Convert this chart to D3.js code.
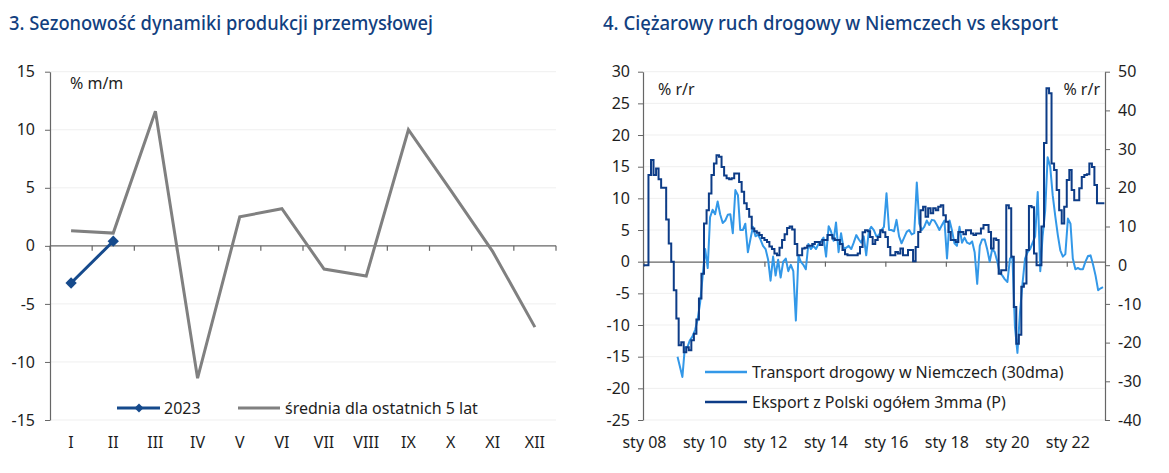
<!DOCTYPE html>
<html><head><meta charset="utf-8">
<script src="https://cdn.jsdelivr.net/npm/d3@7"></script>
<style>
body{margin:0;background:#fff}
svg{display:block}
text{font-family:"Noto Sans",sans-serif}
</style>
</head><body>
<svg id="c" width="1169" height="473"></svg>
<script>
// ---------- DATA: chart 3 ----------
const title1 = "3. Sezonowość dynamiki produkcji przemysłowej";
const months = ["I","II","III","IV","V","VI","VII","VIII","IX","X","XI","XII"];
const avg5y = [1.3, 1.1, 11.6, -11.4, 2.5, 3.2, -2.0, -2.6, 10.0, 4.8, -0.5, -7.0];
const y2023 = [-3.2, 0.4];
const yTicks3 = [-15, -10, -5, 0, 5, 10, 15];
const unit3 = "% m/m";
const legend3 = ["2023", "średnia dla ostatnich 5 lat"];

// ---------- DATA: chart 4 ----------
const title2 = "4. Ciężarowy ruch drogowy w Niemczech vs eksport";
// Eksport z Polski ogółem 3mma (right axis), monthly from Jan 2008
const exportStart = [2008, 0];
const exportVals = [
  0, 0, 23.3, 27.2, 23.3, 25, 22.2, 20, 20, 11.8, 5.6, 0.9,
  -6.5, -13.8, -20.7, -19.9, -22.5, -21.2, -22, -19.4, -17.7, -14, -8.6, -2.2,
  10.8, 14.2, 18.5, 23.3, 26.3, 28.4, 28.0, 25.4, 23.2, 22.5, 22.2, 22.5,
  23.7, 23.7, 21.5, 19, 16, 14.5, 12.5, 9.5, 8.8, 8.4, 7.8, 7.0,
  6.5, 6.0, 4.8, 4.2, 3.0, 2.6, 4.5, 6.5, 8.0, 9.6, 10.0, 9.2,
  5.5, 2.6, 2.6, 4.3, 4.5, 5.0, 5.0, 5.5, 6.0, 6.0, 5.2, 6.5,
  6.5, 7.8, 7.8, 6.9, 6.5, 6.5, 5.5, 3.9, 2.8, 2.6, 2.6, 2.6,
  2.6, 3.0, 4.7, 8.5, 9.0, 8.8, 7.3, 5.5, 6.5, 7.3, 9.0, 8.5,
  7.3, 4.7, 2.6, 2.6, 3.4, 3.0, 4.3, 2.6, 2.6, 3.9, 3.9, 1.0,
  4.7, 8.6, 14.2, 15.1, 12.5, 14.7, 13.4, 14.7, 14.2, 15.1, 15.5, 12.9,
  11.2, 8.6, 6.5, 6.5, 6.0, 8.6, 8.6, 8.0, 9.0, 9.0, 8.2, 7.8,
  8.2, 8.2, 9.5, 10.4, 10.4, 8.6, 4.3, 6.9, 6.5, -2.2, -1.3, -1.3,
  15.5, 14.7, 2.2, -10.8, -20.3, -18, -5.6, -4.7, 3.9, 15.3, 15.0, 3,
  0, 0, 10, 31.6, 45.7, 44.4, 26.3, 24.6, 19.4, 14.2, 10.8, 15.1,
  22, 24.6, 19.4, 16.8, 16.8, 19.9, 22.8, 23.3, 23.5, 26.3, 25.4, 20.7,
  16, 16, 16
];
// Transport drogowy w Niemczech (30dma) (left axis), monthly from Feb 2009
const transportStart = [2009, 1];
const transportVals = [
  -15, -16.5, -18.2, -13.5, -13.5, -12.4, -11.8, -10.8, -9.2, -6.5, -2.4, 2,
  -1, 7, 8.2, 7.5, 9.5, 7.5, 6.1, 6.5, 7.4, 7.5, 4.5, 11.3,
  10.5, 5, 5, 6, 1.5, 3.5, 5.5, 4, 4.3, 3.5, 2.5, 2,
  0.3, -3, 0.8, -2.2, 0.3, -2.5, 0, 0.5, -1.5, -0.5, -1.5, -9.3,
  1, 0, -0.5, -1.2, 2.8, 2, 2.5, 2, 2.8, 3.2, 3.8, 0.8,
  5.6, 4.8, 3.3, 6.2, 1.5, 4.5, 2, 2.2, 2.5, 2, 3, 4.2,
  3.5, 3, 4, 1, 4.8, 5.5, 5, 4, 4.2, 5, 5.5, 10.8,
  5, 5, 4.8, 6.6, 4, 2.9, 3.8, 4.7, 5, 4.3, 4.5, 12.5,
  6, 5, 5.5, 6.5, 5.8, 6.6, 6.5, 5.8, 5, 5.8, 6.5, 0.5,
  6.5, 5, 2.9, 2.5, 5.5, 3, 3.8, 3, 2.8, 3.2, 1.5, -3.5,
  2.5, 3.5, 3.5, 2, 0, 2, 1.5, 0, -1.8, -2.2, -2.8, -3.2,
  0.5, 0.8, -10.3, -14.4, -8, -3.5, 0.5, 1.5, 2, 3, 4, 11,
  -1.5, 4, 8, 16.5, 15, 10.5, 7.2, 4.2, 1.8, 0.8, 1.2, 6.8,
  6, 0.5, -1.2, -1, -1.2, -1.2, 0, 0.9, 1.0, -0.5, -2.2, -4.5,
  -4.2, -4
];
const yTicks4L = [-25, -20, -15, -10, -5, 0, 5, 10, 15, 20, 25, 30];
const yTicks4R = [-40, -30, -20, -10, 0, 10, 20, 30, 40, 50];
const xTickYears = [2008, 2010, 2012, 2014, 2016, 2018, 2020, 2022];
const unit4 = "% r/r";
const legend4 = ["Transport drogowy w Niemczech (30dma)", "Eksport z Polski ogółem 3mma (P)"];

// ---------- STYLE ----------
const titleCol = "#123f80";
const ink = "#1e1e1e";
const axisCol = "#666666";
const gridCol = "#efefef";
const greyLine = "#808080";
const darkBlue = "#0d3c87";
const lightBlue = "#3398e8";
const blue2023 = "#164a8c";

const svg = d3.select("#c");
const fmt = d => String(d);

// Titles
svg.append("text").attr("x", 9).attr("y", 30).attr("font-size", 20).attr("font-weight", 500)
  .attr("font-family", "'Open Sans', 'Noto Sans', sans-serif").attr("fill", titleCol)
  .attr("textLength", 424).attr("lengthAdjust", "spacingAndGlyphs").text(title1);
svg.append("text").attr("x", 603).attr("y", 30).attr("font-size", 20).attr("font-weight", 500)
  .attr("font-family", "'Open Sans', 'Noto Sans', sans-serif").attr("fill", titleCol)
  .attr("textLength", 455).attr("lengthAdjust", "spacingAndGlyphs").text(title2);

// ================= CHART 3 =================
{
  const g = svg.append("g");
  const x = d3.scaleBand().domain(months).range([50, 556]);
  const y = d3.scaleLinear().domain([-15, 15]).range([420, 71.7]);
  const cx = m => x(m) + x.bandwidth() / 2;

  g.selectAll(".grid").data(yTicks3.filter(v => v !== 0)).join("line")
    .attr("x1", 50).attr("x2", 556).attr("y1", d => y(d)).attr("y2", d => y(d))
    .attr("stroke", gridCol).attr("stroke-width", 1);

  const ya = g.append("g").attr("transform", "translate(50,0)")
    .call(d3.axisLeft(y).tickValues(yTicks3).tickFormat(fmt).tickSize(5).tickSizeOuter(0).tickPadding(10));
  ya.select(".domain").attr("stroke", axisCol).attr("stroke-width", 1.2);
  ya.selectAll(".tick line").attr("stroke", axisCol);
  ya.selectAll(".tick text").attr("font-size", 16).attr("fill", ink).attr("font-family", "Noto Sans");

  // zero line with boundary ticks
  const y0 = y(0);
  g.append("line").attr("x1", 50).attr("x2", 556).attr("y1", y0).attr("y2", y0)
    .attr("stroke", axisCol).attr("stroke-width", 1.2);
  const bounds = months.map(m => x(m)).concat([x.range()[1]]);
  g.selectAll(".bt").data(bounds).join("line")
    .attr("x1", d => d).attr("x2", d => d).attr("y1", y0).attr("y2", y0 + 5)
    .attr("stroke", axisCol).attr("stroke-width", 1.2);
  g.selectAll(".xl").data(months).join("text")
    .attr("x", d => cx(d)).attr("y", 448).attr("text-anchor", "middle")
    .attr("font-size", 16).attr("fill", ink).text(d => d);

  // average line
  g.append("path").datum(avg5y)
    .attr("d", d3.line().x((d, i) => cx(months[i])).y(d => y(d)))
    .attr("fill", "none").attr("stroke", greyLine).attr("stroke-width", 3);
  // 2023 line
  g.append("path").datum(y2023)
    .attr("d", d3.line().x((d, i) => cx(months[i])).y(d => y(d)))
    .attr("fill", "none").attr("stroke", blue2023).attr("stroke-width", 3);
  const diamond = d3.symbol().type(d3.symbolSquare).size(64);
  g.selectAll(".mk").data(y2023).join("path")
    .attr("d", diamond)
    .attr("transform", (d, i) => `translate(${cx(months[i])},${y(d)}) rotate(45)`)
    .attr("fill", blue2023);

  g.append("text").attr("x", 70).attr("y", 89).attr("font-size", 16).attr("fill", ink).text(unit3);

  // legend
  g.append("line").attr("x1", 117).attr("x2", 160).attr("y1", 408).attr("y2", 408)
    .attr("stroke", blue2023).attr("stroke-width", 3);
  g.append("path").attr("d", d3.symbol().type(d3.symbolSquare).size(40))
    .attr("transform", "translate(139,408) rotate(45)").attr("fill", blue2023);
  g.append("text").attr("x", 164).attr("y", 414).attr("font-size", 16).attr("fill", ink).text(legend3[0]);
  g.append("line").attr("x1", 238).attr("x2", 280).attr("y1", 408).attr("y2", 408)
    .attr("stroke", greyLine).attr("stroke-width", 3);
  g.append("text").attr("x", 285).attr("y", 414).attr("font-size", 16).attr("fill", ink).text(legend3[1]);
}

// ================= CHART 4 =================
{
  const g = svg.append("g");
  const x = d3.scaleTime().domain([new Date(2008, 0, 1), new Date(2023, 3, 8)]).range([643.5, 1105]);
  const yL = d3.scaleLinear().domain([-25, 30]).range([420, 71.7]);
  const yR = d3.scaleLinear().domain([-40, 50]).range([420, 71.7]);

  g.selectAll(".grid").data(yTicks4L.filter(v => v !== 0)).join("line")
    .attr("x1", 643).attr("x2", 1105).attr("y1", d => yL(d)).attr("y2", d => yL(d))
    .attr("stroke", gridCol).attr("stroke-width", 1);

  const la = g.append("g").attr("transform", "translate(643,0)")
    .call(d3.axisLeft(yL).tickValues(yTicks4L).tickFormat(fmt).tickSize(5).tickSizeOuter(0).tickPadding(8));
  la.select(".domain").attr("stroke", axisCol).attr("stroke-width", 1.2);
  la.selectAll(".tick line").attr("stroke", axisCol);
  la.selectAll(".tick text").attr("font-size", 16).attr("fill", ink).attr("font-family", "Noto Sans");

  const ra = g.append("g").attr("transform", "translate(1105,0)")
    .call(d3.axisRight(yR).tickValues(yTicks4R).tickFormat(fmt).tickSize(5).tickSizeOuter(0).tickPadding(8));
  ra.select(".domain").attr("stroke", axisCol).attr("stroke-width", 1.2);
  ra.selectAll(".tick line").attr("stroke", axisCol);
  ra.selectAll(".tick text").attr("font-size", 16).attr("fill", ink).attr("font-family", "Noto Sans");

  const y0 = yL(0);
  const tickDates = xTickYears.map(yr => new Date(yr, 0, 1));
  const xa = g.append("g").attr("transform", `translate(0,${y0})`)
    .call(d3.axisBottom(x).tickValues(tickDates).tickFormat("").tickSize(5).tickSizeOuter(0));
  xa.select(".domain").attr("stroke", axisCol).attr("stroke-width", 1.2);
  xa.selectAll(".tick line").attr("stroke", axisCol).attr("stroke-width", 1.2);
  g.selectAll(".xl").data(tickDates).join("text")
    .attr("x", d => x(d) + 1).attr("y", 448).attr("text-anchor", "middle")
    .attr("font-size", 16).attr("fill", ink)
    .text(d => "sty " + String(d.getFullYear() % 100).padStart(2, "0"));

  // transport (left axis)
  const tData = transportVals.map((v, i) => ({ d: new Date(transportStart[0], transportStart[1] + i, 15), v }));
  g.append("path").datum(tData)
    .attr("d", d3.line().x(p => x(p.d)).y(p => yL(p.v)))
    .attr("fill", "none").attr("stroke", lightBlue).attr("stroke-width", 2).attr("stroke-linejoin", "round");

  // export (right axis), monthly step
  const eData = exportVals.map((v, i) => ({ d: new Date(exportStart[0], exportStart[1] + i, 1), v }));
  eData.push({ d: new Date(exportStart[0], exportStart[1] + exportVals.length, 1), v: exportVals[exportVals.length - 1] });
  g.append("path").datum(eData)
    .attr("d", d3.line().curve(d3.curveStepAfter).x(p => x(p.d)).y(p => yR(p.v)))
    .attr("fill", "none").attr("stroke", darkBlue).attr("stroke-width", 2);

  g.append("text").attr("x", 658).attr("y", 95).attr("font-size", 16).attr("fill", ink).text(unit4);
  g.append("text").attr("x", 1100).attr("y", 95).attr("text-anchor", "end").attr("font-size", 16).attr("fill", ink).text(unit4);

  // legend
  g.append("line").attr("x1", 705).attr("x2", 747).attr("y1", 372).attr("y2", 372)
    .attr("stroke", lightBlue).attr("stroke-width", 2.5);
  g.append("text").attr("x", 752).attr("y", 378).attr("font-size", 16).attr("fill", ink).text(legend4[0]);
  g.append("line").attr("x1", 705).attr("x2", 747).attr("y1", 402).attr("y2", 402)
    .attr("stroke", darkBlue).attr("stroke-width", 2.5);
  g.append("text").attr("x", 752).attr("y", 408).attr("font-size", 16).attr("fill", ink).text(legend4[1]);
}
</script>
</body></html>
